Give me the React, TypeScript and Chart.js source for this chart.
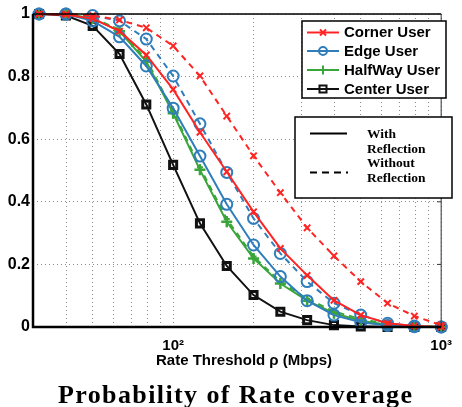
import React, { useEffect, useRef } from 'react';
import { Chart, registerables } from 'chart.js';
Chart.register(...registerables);

const RATE = [31.6, 39.8, 50.1, 63.1, 79.4, 100, 125.9, 158.5, 199.5, 251.2, 316.2, 398.1, 501.2, 631.0, 794.3, 1000];
const CORNER_WITH = [1.0, 0.998, 0.985, 0.945, 0.869, 0.759, 0.622, 0.496, 0.368, 0.251, 0.165, 0.085, 0.038, 0.012, 0.003, 0.0];
const CORNER_WITHOUT = [1.0, 1.0, 0.995, 0.981, 0.956, 0.898, 0.802, 0.674, 0.547, 0.429, 0.317, 0.227, 0.145, 0.076, 0.035, 0.006];
const EDGE_WITH = [1.0, 1.0, 0.978, 0.927, 0.834, 0.699, 0.546, 0.392, 0.262, 0.161, 0.084, 0.038, 0.015, 0.005, 0.001, 0.0];
const EDGE_WITHOUT = [1.0, 1.0, 0.995, 0.978, 0.92, 0.802, 0.649, 0.494, 0.347, 0.235, 0.145, 0.076, 0.038, 0.012, 0.003, 0.0];
const HALF_WITH = [1.0, 1.0, 0.986, 0.945, 0.848, 0.683, 0.502, 0.336, 0.219, 0.139, 0.084, 0.044, 0.02, 0.007, 0.002, 0.0];
const HALF_WITHOUT = [1.0, 1.0, 0.988, 0.95, 0.855, 0.69, 0.51, 0.345, 0.225, 0.145, 0.09, 0.05, 0.025, 0.01, 0.003, 0.0];
const CENTER_WITH = [1.0, 0.995, 0.962, 0.872, 0.711, 0.518, 0.331, 0.195, 0.102, 0.049, 0.022, 0.006, 0.002, 0.0, 0.0, 0.0];

const X_GRID = [40, 50, 60, 70, 80, 90, 100, 200, 300, 400, 500, 600, 700, 800, 900, 1000];
const Y_TICKS = [0, 0.2, 0.4, 0.6, 0.8, 1];
const USER_LABELS = ['Corner User', 'Edge User', 'HalfWay User', 'Center User'];
const REFL_LABELS = [['With', 'Reflection'], ['Without', 'Reflection']];
const X_TITLE = 'Rate Threshold \u03c1 (Mbps)';
const TITLE = 'Probability of Rate coverage';

const RED = '#ff2424';
const BLUE = '#2f7dbb';
const GREEN = '#3aa63a';
const BLACK = '#111111';

const SANS = '"Liberation Sans", Arial, sans-serif';
const SERIF = '"Liberation Serif", "Times New Roman", serif';

const pts = (ys: number[]) => ys.map((y, i) => ({ x: RATE[i], y }));

function mk(label: string, ys: number[], color: string, style: any, radius: number, dashed: boolean, pw: number) {
  return {
    label,
    data: pts(ys),
    borderColor: color,
    backgroundColor: 'transparent',
    borderWidth: 2,
    borderDash: dashed ? [6, 5] : [],
    pointStyle: style,
    pointRadius: radius,
    pointBorderColor: color,
    pointBackgroundColor: 'transparent',
    pointBorderWidth: pw,
    tension: 0,
    clip: false as any,
  };
}

function drawMarker(ctx: CanvasRenderingContext2D, kind: string, x: number, y: number, color: string) {
  ctx.save();
  ctx.strokeStyle = color;
  ctx.lineWidth = 2;
  ctx.setLineDash([]);
  ctx.beginPath();
  if (kind === 'x') {
    const r = 3;
    ctx.moveTo(x - r, y - r); ctx.lineTo(x + r, y + r);
    ctx.moveTo(x + r, y - r); ctx.lineTo(x - r, y + r);
  } else if (kind === 'o') {
    ctx.arc(x, y, 4, 0, Math.PI * 2);
  } else if (kind === '+') {
    const r = 4.5;
    ctx.moveTo(x - r, y); ctx.lineTo(x + r, y);
    ctx.moveTo(x, y - r); ctx.lineTo(x, y + r);
  } else {
    ctx.rect(x - 3.5, y - 3.5, 7, 7);
  }
  ctx.stroke();
  ctx.restore();
}

const decorPlugin = {
  id: 'decor',
  afterDatasetsDraw(chart: any) {
    const ctx: CanvasRenderingContext2D = chart.ctx;
    const a = chart.chartArea;
    const ys = chart.scales.y;
    ctx.save();
    // axes box
    ctx.setLineDash([]);
    ctx.strokeStyle = '#000';
    ctx.lineWidth = 1.5;
    ctx.beginPath();
    ctx.moveTo(a.left, a.top); ctx.lineTo(a.right, a.top);
    ctx.stroke();
    ctx.strokeStyle = '#333';
    ctx.lineWidth = 1;
    ctx.beginPath();
    ctx.moveTo(a.right, a.top); ctx.lineTo(a.right, a.bottom);
    ctx.stroke();
    // right inner ticks
    ctx.beginPath();
    Y_TICKS.forEach((v) => {
      const py = ys.getPixelForValue(v);
      ctx.moveTo(a.right, py); ctx.lineTo(a.right - 4, py);
    });
    ctx.stroke();
    ctx.strokeStyle = '#000';
    ctx.lineWidth = 2.5;
    ctx.beginPath();
    ctx.moveTo(a.left, a.top); ctx.lineTo(a.left, a.bottom); ctx.lineTo(a.right, a.bottom);
    ctx.stroke();

    // legend 1
    const colors = [RED, BLUE, GREEN, BLACK];
    const kinds = ['x', 'o', '+', 's'];
    ctx.fillStyle = '#fff';
    ctx.fillRect(302, 21, 144, 77);
    ctx.strokeStyle = '#000';
    ctx.lineWidth = 1.5;
    ctx.strokeRect(302, 21, 144, 77);
    const rows = [32.5, 51, 70, 89];
    ctx.font = `bold 15px ${SANS}`;
    ctx.textBaseline = 'middle';
    ctx.textAlign = 'left';
    USER_LABELS.forEach((t, i) => {
      ctx.strokeStyle = colors[i];
      ctx.lineWidth = 2;
      ctx.beginPath();
      ctx.moveTo(307, rows[i]); ctx.lineTo(339, rows[i]);
      ctx.stroke();
      drawMarker(ctx, kinds[i], 323, rows[i], colors[i]);
      ctx.fillStyle = '#000';
      ctx.fillText(t, 344, rows[i] + 0.5);
    });

    // legend 2
    ctx.fillStyle = '#fff';
    ctx.fillRect(295, 117, 157, 81);
    ctx.strokeStyle = '#000';
    ctx.lineWidth = 1.5;
    ctx.strokeRect(295, 117, 157, 81);
    ctx.strokeStyle = '#000';
    ctx.lineWidth = 2;
    ctx.beginPath();
    ctx.moveTo(310, 133.5); ctx.lineTo(347, 133.5);
    ctx.stroke();
    ctx.setLineDash([7, 5]);
    ctx.beginPath();
    ctx.moveTo(310, 172.5); ctx.lineTo(348, 172.5);
    ctx.stroke();
    ctx.setLineDash([]);
    ctx.fillStyle = '#000';
    ctx.font = `bold 13.5px ${SERIF}`;
    ctx.textBaseline = 'alphabetic';
    ctx.fillText(REFL_LABELS[0][0], 367, 138);
    ctx.fillText(REFL_LABELS[0][1], 367, 153);
    ctx.fillText(REFL_LABELS[1][0], 367, 167);
    ctx.fillText(REFL_LABELS[1][1], 367, 182);

    // x axis title
    ctx.font = `bold 15px ${SANS}`;
    ctx.textAlign = 'center';
    ctx.fillText(X_TITLE, 244, 365);

    // main title
    ctx.font = `bold 26px ${SERIF}`;
    const w = ctx.measureText(TITLE).width;
    const ls = Math.max(0, (354 - w) / (TITLE.length - 1));
    (ctx as any).letterSpacing = `${ls.toFixed(2)}px`;
    ctx.textAlign = 'left';
    ctx.fillText(TITLE, 58, 403);
    (ctx as any).letterSpacing = '0px';
    ctx.restore();
  },
};

export default function App() {
  const ref = useRef<HTMLCanvasElement | null>(null);
  useEffect(() => {
    if (!ref.current) return;
    const chart = new Chart(ref.current, {
      type: 'line',
      data: {
        datasets: [
          mk('Corner User', CORNER_WITH, RED, 'crossRot', 4.5, false, 2),
          mk('Corner User (no refl.)', CORNER_WITHOUT, RED, 'crossRot', 4.5, true, 2),
          mk('Edge User', EDGE_WITH, BLUE, 'circle', 5.5, false, 2),
          mk('Edge User (no refl.)', EDGE_WITHOUT, BLUE, 'circle', 5.5, true, 2),
          mk('HalfWay User', HALF_WITH, GREEN, 'cross', 5.5, false, 2.5),
          mk('HalfWay User (no refl.)', HALF_WITHOUT, GREEN, 'cross', 3, true, 2),
          mk('Center User', CENTER_WITH, BLACK, 'rect', 5, false, 3),
        ] as any,
      },
      options: {
        animation: false,
        responsive: false,
        maintainAspectRatio: false,
        layout: { padding: { top: 14, right: 10, left: 0, bottom: 0 } },
        plugins: { legend: { display: false }, tooltip: { enabled: false }, title: { display: false } },
        scales: {
          x: {
            type: 'logarithmic',
            min: 30,
            max: 1000,
            afterBuildTicks: (s: any) => { s.ticks = X_GRID.map((v) => ({ value: v })); },
            afterFit: (s: any) => { s.height = 80; },
            grid: { color: '#8c8c8c', lineWidth: 1, drawTicks: false },
            border: { display: false, dash: [1, 3] },
            ticks: {
              autoSkip: false,
              maxRotation: 0,
              padding: 10,
              color: '#000',
              font: { family: SANS, weight: 'bold', size: 15 },
              callback: (v: any) => (v === 100 ? '10\u00b2' : v === 1000 ? '10\u00b3' : ''),
            },
          },
          y: {
            min: 0,
            max: 1,
            afterBuildTicks: (s: any) => { s.ticks = Y_TICKS.map((v) => ({ value: v })); },
            afterFit: (s: any) => { s.width = 33; },
            grid: { color: '#8c8c8c', lineWidth: 1, drawTicks: false },
            border: { display: false, dash: [1, 3] },
            ticks: {
              padding: 3,
              color: '#000',
              font: { family: SANS, weight: 'bold', size: 16 },
              callback: (v: any) => String(v),
            },
          },
        },
      } as any,
      plugins: [decorPlugin],
    });
    return () => chart.destroy();
  }, []);
  return (
    <div style={{ position: 'fixed', left: 0, top: 0, width: 462, height: 407, background: '#fff' }}>
      <canvas ref={ref} width={462} height={407} style={{ width: 462, height: 407 }} />
    </div>
  );
}
